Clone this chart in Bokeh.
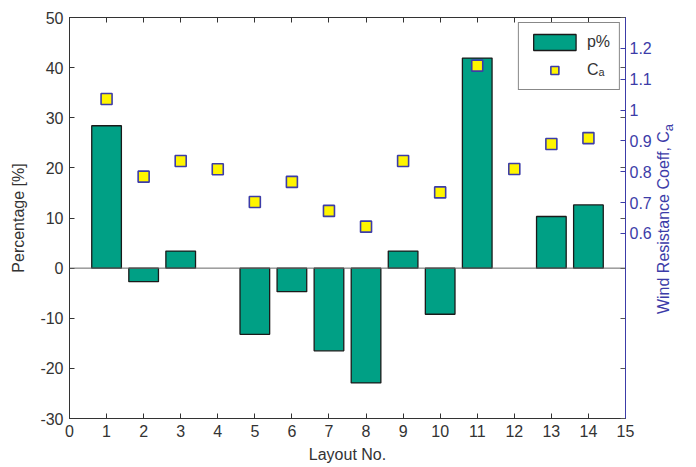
from bokeh.plotting import figure
from bokeh.layouts import row
from bokeh.models import (LinearAxis, Range1d, FixedTicker, Span, Legend, Div,
                          LegendItem, ColumnDataSource)
from bokeh.embed import file_html
from bokeh.resources import INLINE

# ---- data ----
layout_no = [1, 2, 3, 4, 5, 6, 7, 8, 9, 10, 11, 12, 13, 14]
pct = [28.4, -2.7, 3.4, 0.0, -13.2, -4.7, -16.5, -22.9, 3.4, -9.2, 41.9, 0.0, 10.3, 12.6]
ca = [1.036, 0.784, 0.835, 0.808, 0.702, 0.767, 0.673, 0.622, 0.835, 0.733,
      1.144, 0.809, 0.890, 0.909]
x_ticks = list(range(0, 16))
left_ticks = [-30, -20, -10, 0, 10, 20, 30, 40, 50]
right_ticks = [0.6, 0.7, 0.8, 0.9, 1.0, 1.1, 1.2]
right_labels = {0.6: "0.6", 0.7: "0.7", 0.8: "0.8", 0.9: "0.9", 1.0: "1", 1.1: "1.1", 1.2: "1.2"}

TEAL = "#00A085"
BLUE = "#3C3CA8"
DARK = "#333333"
FONT = "Liberation Sans"

W, H = 656, 467
DW = 40
BL, BR, BT, BB = 69, 31, 17, 49

bar_x = [x for x, v in zip(layout_no, pct) if v != 0]
bar_v = [v for v in pct if v != 0]
bar_src = ColumnDataSource(dict(x=bar_x, top=bar_v))
pt_src = ColumnDataSource(dict(x=layout_no, y=ca))

p = figure(width=W, height=H, x_range=Range1d(0, 15), y_range=Range1d(-30, 50),
           output_backend="svg", toolbar_location=None,
           min_border_left=BL, min_border_right=BR, min_border_top=BT, min_border_bottom=BB)
p.extra_y_ranges = {"ca": Range1d(0, 1.3)}
p.xgrid.visible = False
p.ygrid.visible = False
p.outline_line_color = DARK
p.background_fill_color = "white"
p.border_fill_color = "white"

zero = Span(location=0, dimension="width", line_color="#666666", line_width=1)
p.add_layout(zero)

bars = p.vbar(x="x", top="top", bottom=0, width=0.8, source=bar_src,
              fill_color=TEAL, line_color="#1a1a1a", line_width=1.3)
pts = p.scatter(x="x", y="y", source=pt_src, y_range_name="ca", marker="square",
                size=11, fill_color="#FFF500", line_color=BLUE, line_width=1.6)

def style_axis(ax, color):
    ax.major_tick_in = 5
    ax.major_tick_out = 0
    ax.minor_tick_line_color = None
    ax.axis_line_color = color
    ax.major_tick_line_color = color
    ax.major_label_text_color = color
    ax.major_label_text_font = FONT
    ax.major_label_text_font_size = "16px"
    ax.axis_label_text_font = FONT
    ax.axis_label_text_font_size = "16px"
    ax.axis_label_text_font_style = "normal"
    ax.axis_label_text_color = color

xa = p.xaxis[0]
xa.ticker = FixedTicker(ticks=x_ticks)
xa.axis_label = "Layout No."
style_axis(xa, DARK)
xa.major_label_standoff = 6
xa.axis_label_standoff = 6

ya = p.yaxis[0]
ya.ticker = FixedTicker(ticks=left_ticks)
ya.major_label_overrides = {t: str(t) for t in left_ticks}
ya.axis_label = "Percentage [%]"
style_axis(ya, DARK)
ya.major_label_standoff = 6
ya.axis_label_standoff = 10

top_ax = LinearAxis(ticker=FixedTicker(ticks=x_ticks))
style_axis(top_ax, DARK)
top_ax.major_label_text_font_size = "0px"
top_ax.major_label_text_color = None
top_ax.major_label_standoff = 0
p.add_layout(top_ax, "above")

mirror = LinearAxis(ticker=FixedTicker(ticks=left_ticks))
style_axis(mirror, "#555555")
mirror.axis_line_color = None
mirror.major_label_text_font_size = "0px"
mirror.major_label_text_color = None
mirror.major_label_standoff = 0
p.add_layout(mirror, "right")

ra = LinearAxis(y_range_name="ca", ticker=FixedTicker(ticks=right_ticks))
style_axis(ra, BLUE)
ra.major_label_overrides = right_labels
ra.major_label_standoff = 4
p.add_layout(ra, "right")

legend = Legend(items=[LegendItem(label="p%", renderers=[bars]),
                       LegendItem(label="C\u2090", renderers=[pts])],
                location="top_right", margin=5, padding=9, spacing=8,
                glyph_width=53, glyph_height=20, label_height=20, label_standoff=6,
                label_text_font=FONT, label_text_font_size="16px", label_text_color=DARK,
                border_line_color="#111111", border_line_width=1.2,
                background_fill_color="white", background_fill_alpha=1)
p.add_layout(legend)

# right-axis title (reads bottom-to-top, with a true subscript)
title_html = (
    '<div style="position:relative;width:%dpx;height:%dpx;">'
    '<span style="position:absolute;left:10px;top:219px;white-space:nowrap;'
    'transform:translate(-50%%,-50%%) rotate(-90deg);'
    "font-family:'Liberation Sans';font-size:16px;color:%s;\">"
    'Wind Resistance Coeff, C<sub style="font-size:13px;">a</sub></span></div>'
) % (DW, H, BLUE)
div = Div(text=title_html, width=DW, height=H, margin=0)

layout = row(p, div, spacing=0)
open("out.html", "w").write(file_html(layout, INLINE))
